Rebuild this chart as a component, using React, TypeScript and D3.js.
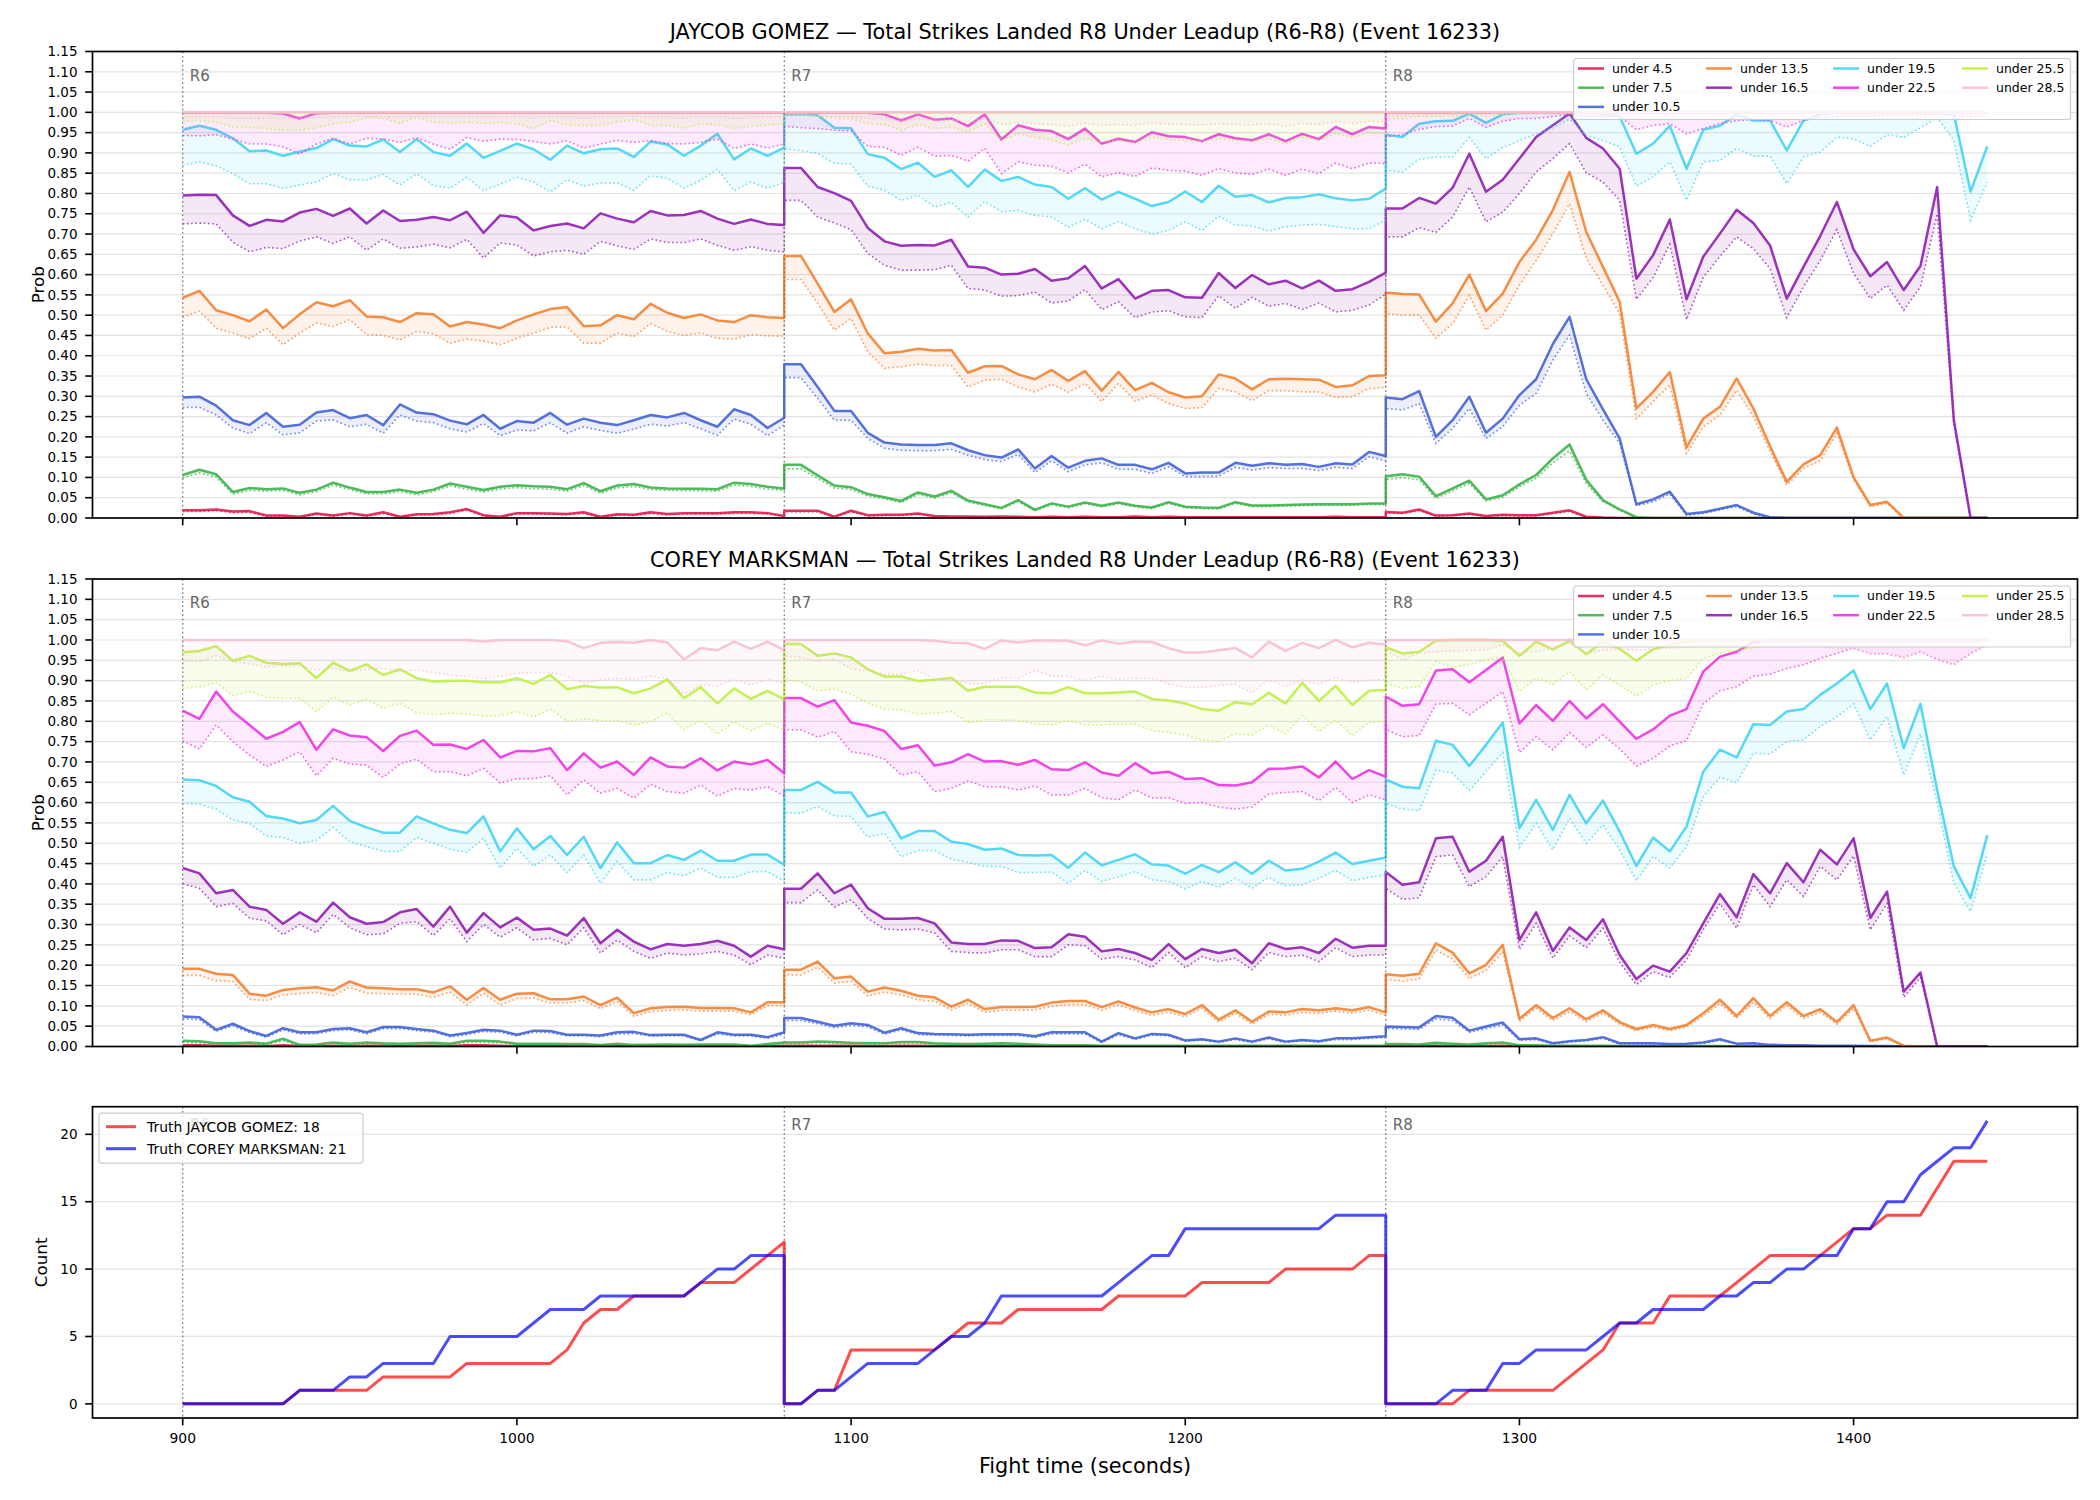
import * as d3 from 'd3'

// three rounds, one sample every 5 s, each round restarts at its own boundary
const ROUND_STARTS = [900, 1080, 1260]
const ROUND_NAMES = ['R6', 'R7', 'R8']
const TIMES = ROUND_STARTS.flatMap(s => d3.range(0, 181, 5).map(t => s + t))

const LABELS = ['under 4.5', 'under 7.5', 'under 10.5', 'under 13.5', 'under 16.5', 'under 19.5', 'under 22.5', 'under 25.5', 'under 28.5']
const COLORS = ['#e6194b', '#3cb44b', '#4363d8', '#f58231', '#911eb4', '#42d4f4', '#f032e6', '#bfef45', '#fabed4']
const X_TICKS = [900, 1000, 1100, 1200, 1300, 1400]

// ---------- JAYCOB GOMEZ: solid line (P) and dotted lower line (L) ----------
const gomezP45 = [
  [0.019,0.019,0.021,0.016,0.017,0.006,0.006,0.003,0.011,0.006, 0.012,0.006,0.014,0.003,0.009,0.010,0.014,0.022,0.007,0.003, 0.012,0.012,0.011,0.010,0.014,0.003,0.009,0.008,0.014,0.010, 0.012,0.012,0.012,0.014,0.014,0.012,0.005],
  [0.018,0.018,0.018,0.003,0.018,0.007,0.008,0.008,0.011,0.005, 0.004,0.004,0.003,0.004,0.003,0.002,0.003,0.002,0.003,0.002, 0.002,0.004,0.002,0.003,0.002,0.002,0.002,0.002,0.002,0.002, 0.002,0.002,0.002,0.003,0.002,0.002,0.002],
  [0.015,0.013,0.021,0.006,0.007,0.011,0.005,0.008,0.007,0.007, 0.013,0.019,0.003,0.001,0,0,0,0,0,0, 0,0,0,0,0,0,0,0,0,0, 0,0,0,0,0,0,0],
].flat()
const gomezL45 = [
  [0.016,0.016,0.018,0.013,0.014,0.004,0.004,0.002,0.009,0.004, 0.010,0.004,0.011,0.002,0.007,0.008,0.011,0.019,0.005,0.002, 0.010,0.010,0.009,0.008,0.011,0.002,0.007,0.006,0.011,0.008, 0.010,0.010,0.010,0.011,0.011,0.010,0.004],
  [0.015,0.015,0.015,0.002,0.015,0.005,0.006,0.006,0.009,0.004, 0.003,0.003,0.002,0.003,0.002,0.001,0.002,0.001,0.002,0.001, 0.001,0.003,0.001,0.002,0.001,0.001,0.001,0.001,0.001,0.001, 0.001,0.001,0.001,0.002,0.001,0.001,0.001],
  [0.012,0.011,0.018,0.005,0.006,0.009,0.004,0.006,0.005,0.005, 0.011,0.016,0.002,0.001,0,0,0,0,0,0, 0,0,0,0,0,0,0,0,0,0, 0,0,0,0,0,0,0],
].flat()
const gomezP75 = [
  [0.106,0.119,0.108,0.064,0.074,0.071,0.073,0.062,0.070,0.087, 0.075,0.064,0.064,0.070,0.062,0.070,0.085,0.077,0.069,0.077, 0.081,0.078,0.077,0.071,0.086,0.066,0.080,0.084,0.075,0.073, 0.072,0.072,0.071,0.087,0.084,0.077,0.073],
  [0.131,0.131,0.105,0.080,0.076,0.059,0.051,0.042,0.063,0.053, 0.067,0.043,0.034,0.025,0.044,0.020,0.036,0.028,0.038,0.030, 0.038,0.030,0.026,0.039,0.028,0.026,0.025,0.039,0.031,0.031, 0.032,0.033,0.034,0.034,0.034,0.036,0.036],
  [0.103,0.108,0.102,0.054,0.073,0.092,0.046,0.056,0.083,0.106, 0.147,0.181,0.094,0.044,0.021,0.002,0,0,0,0, 0,0,0,0,0,0,0,0,0,0, 0,0,0,0,0,0,0],
].flat()
const gomezL75 = [
  [0.099,0.111,0.101,0.059,0.068,0.066,0.068,0.057,0.065,0.081, 0.070,0.059,0.059,0.065,0.057,0.065,0.079,0.071,0.064,0.071, 0.075,0.072,0.071,0.066,0.080,0.061,0.074,0.078,0.070,0.068, 0.067,0.067,0.066,0.081,0.078,0.071,0.068],
  [0.121,0.121,0.097,0.074,0.070,0.054,0.047,0.038,0.058,0.049, 0.062,0.039,0.031,0.022,0.040,0.018,0.033,0.025,0.035,0.027, 0.035,0.027,0.023,0.036,0.025,0.023,0.022,0.036,0.028,0.028, 0.029,0.030,0.031,0.031,0.031,0.033,0.033],
  [0.095,0.099,0.094,0.048,0.067,0.085,0.042,0.051,0.077,0.098, 0.136,0.165,0.085,0.040,0.019,0.001,0,0,0,0, 0,0,0,0,0,0,0,0,0,0, 0,0,0,0,0,0,0],
].flat()
const gomezP105 = [
  [0.297,0.299,0.277,0.241,0.229,0.259,0.225,0.230,0.260,0.266, 0.246,0.254,0.229,0.280,0.260,0.256,0.240,0.231,0.254,0.220, 0.239,0.235,0.259,0.230,0.245,0.235,0.229,0.241,0.254,0.248, 0.259,0.241,0.225,0.268,0.254,0.222,0.247],
  [0.379,0.379,0.323,0.264,0.264,0.210,0.186,0.181,0.180,0.180, 0.184,0.167,0.155,0.149,0.169,0.122,0.153,0.124,0.141,0.147, 0.131,0.131,0.120,0.136,0.110,0.112,0.112,0.136,0.129,0.135, 0.131,0.133,0.126,0.135,0.132,0.163,0.153],
  [0.297,0.293,0.313,0.200,0.241,0.299,0.210,0.245,0.303,0.342, 0.429,0.496,0.342,0.268,0.196,0.034,0.046,0.065,0.010,0.014, 0.023,0.032,0.013,0.002,0,0,0,0,0,0, 0,0,0,0,0,0,0],
].flat()
const gomezL105 = [
  [0.272,0.273,0.254,0.222,0.208,0.235,0.205,0.210,0.239,0.242, 0.225,0.231,0.209,0.254,0.239,0.235,0.220,0.212,0.233,0.203, 0.217,0.215,0.235,0.209,0.225,0.216,0.209,0.219,0.231,0.227, 0.235,0.220,0.204,0.244,0.231,0.203,0.229],
  [0.346,0.346,0.295,0.241,0.241,0.196,0.172,0.167,0.166,0.166, 0.169,0.155,0.144,0.139,0.157,0.112,0.141,0.114,0.131,0.136, 0.120,0.120,0.110,0.126,0.102,0.102,0.103,0.125,0.118,0.124, 0.122,0.122,0.117,0.125,0.122,0.151,0.141],
  [0.270,0.266,0.282,0.184,0.221,0.270,0.196,0.225,0.278,0.307, 0.389,0.451,0.307,0.241,0.184,0.030,0.040,0.059,0.007,0.011, 0.020,0.028,0.010,0,0,0,0,0,0,0, 0,0,0,0,0,0,0],
].flat()
const gomezP135 = [
  [0.543,0.560,0.512,0.500,0.485,0.514,0.468,0.502,0.532,0.522, 0.537,0.497,0.495,0.483,0.505,0.502,0.472,0.483,0.477,0.468, 0.487,0.502,0.515,0.520,0.473,0.475,0.500,0.490,0.528,0.506, 0.493,0.502,0.487,0.483,0.500,0.495,0.493],
  [0.646,0.646,0.578,0.508,0.539,0.455,0.406,0.410,0.417,0.413, 0.414,0.358,0.374,0.375,0.354,0.342,0.365,0.338,0.362,0.314, 0.360,0.315,0.333,0.310,0.297,0.300,0.354,0.344,0.317,0.342, 0.343,0.342,0.341,0.323,0.327,0.350,0.352],
  [0.556,0.552,0.551,0.484,0.529,0.600,0.510,0.553,0.631,0.686, 0.759,0.853,0.705,0.619,0.533,0.270,0.311,0.360,0.174,0.245, 0.274,0.344,0.270,0.177,0.089,0.132,0.155,0.223,0.100,0.032, 0.040,0,0,0,0,0,0],
].flat()
const gomezL135 = [
  [0.495,0.510,0.468,0.456,0.442,0.468,0.427,0.456,0.481,0.472, 0.489,0.452,0.450,0.439,0.460,0.454,0.431,0.441,0.436,0.427, 0.443,0.456,0.470,0.471,0.431,0.431,0.456,0.447,0.479,0.460, 0.450,0.456,0.443,0.441,0.452,0.449,0.448],
  [0.588,0.588,0.529,0.463,0.492,0.410,0.369,0.373,0.379,0.376, 0.376,0.323,0.340,0.342,0.323,0.311,0.330,0.310,0.332,0.287, 0.332,0.288,0.303,0.282,0.270,0.272,0.319,0.311,0.289,0.314, 0.314,0.311,0.311,0.297,0.299,0.319,0.322],
  [0.504,0.500,0.500,0.443,0.479,0.549,0.463,0.500,0.574,0.635, 0.701,0.775,0.640,0.574,0.504,0.245,0.287,0.328,0.159,0.225, 0.254,0.315,0.250,0.165,0.081,0.122,0.141,0.209,0.094,0.028, 0.036,0,0,0,0,0,0],
].flat()
const gomezP165 = [
  [0.795,0.797,0.796,0.746,0.720,0.735,0.731,0.753,0.762,0.745, 0.763,0.726,0.758,0.732,0.735,0.742,0.734,0.755,0.703,0.746, 0.741,0.709,0.720,0.726,0.714,0.751,0.738,0.729,0.757,0.746, 0.747,0.757,0.738,0.725,0.736,0.725,0.722],
  [0.863,0.863,0.816,0.801,0.782,0.715,0.682,0.671,0.673,0.672, 0.686,0.620,0.617,0.600,0.602,0.614,0.585,0.591,0.621,0.566, 0.589,0.541,0.560,0.562,0.544,0.543,0.604,0.567,0.599,0.576, 0.585,0.566,0.585,0.560,0.564,0.582,0.605],
  [0.763,0.763,0.789,0.775,0.814,0.898,0.804,0.834,0.886,0.939, 0.968,0.997,0.937,0.911,0.861,0.590,0.648,0.736,0.539,0.644, 0.701,0.760,0.727,0.672,0.541,0.619,0.695,0.779,0.662,0.596, 0.631,0.562,0.621,0.816,0.241,0,0],
].flat()
const gomezL165 = [
  [0.725,0.727,0.725,0.680,0.656,0.667,0.664,0.683,0.693,0.677, 0.693,0.660,0.688,0.665,0.668,0.675,0.666,0.687,0.641,0.678, 0.673,0.646,0.656,0.660,0.650,0.682,0.671,0.662,0.688,0.679, 0.679,0.688,0.672,0.660,0.669,0.660,0.656],
  [0.783,0.783,0.742,0.727,0.711,0.652,0.623,0.611,0.611,0.612, 0.623,0.566,0.562,0.547,0.548,0.557,0.530,0.535,0.563,0.514, 0.533,0.494,0.508,0.511,0.496,0.494,0.548,0.517,0.544,0.522, 0.529,0.514,0.530,0.508,0.512,0.525,0.552],
  [0.693,0.693,0.716,0.704,0.742,0.816,0.730,0.754,0.800,0.853, 0.886,0.923,0.851,0.828,0.783,0.539,0.593,0.675,0.489,0.593, 0.645,0.693,0.664,0.615,0.494,0.570,0.635,0.711,0.603,0.541, 0.574,0.512,0.570,0.750,0.233,0,0],
].flat()
const gomezP195 = [
  [0.957,0.967,0.957,0.936,0.904,0.906,0.893,0.903,0.912,0.934, 0.918,0.916,0.933,0.902,0.934,0.902,0.893,0.923,0.888,0.905, 0.923,0.909,0.883,0.918,0.899,0.909,0.911,0.890,0.928,0.921, 0.893,0.918,0.947,0.884,0.911,0.893,0.913],
  [0.995,0.995,0.993,0.962,0.961,0.897,0.888,0.860,0.876,0.841, 0.857,0.816,0.859,0.831,0.841,0.822,0.816,0.787,0.813,0.785, 0.804,0.787,0.769,0.779,0.805,0.779,0.819,0.792,0.796,0.778, 0.789,0.791,0.798,0.788,0.783,0.787,0.812],
  [0.945,0.939,0.972,0.978,0.979,0.997,0.974,0.995,0.999,1.000, 1.000,1.000,1.000,0.996,0.990,0.898,0.923,0.967,0.861,0.957, 0.967,0.995,0.980,0.980,0.906,0.980,0.995,0.999,1.000,1.000, 1.000,1.000,1.000,1.000,0.996,0.805,0.916],
].flat()
const gomezL195 = [
  [0.869,0.878,0.868,0.849,0.824,0.824,0.813,0.821,0.828,0.849, 0.834,0.833,0.847,0.821,0.848,0.820,0.813,0.840,0.807,0.823, 0.840,0.828,0.804,0.834,0.818,0.826,0.826,0.808,0.844,0.837, 0.813,0.833,0.860,0.807,0.828,0.813,0.828],
  [0.910,0.906,0.898,0.875,0.872,0.818,0.808,0.783,0.796,0.767, 0.778,0.742,0.780,0.755,0.759,0.746,0.742,0.716,0.736,0.713, 0.730,0.713,0.700,0.709,0.730,0.709,0.744,0.722,0.720,0.707, 0.718,0.722,0.724,0.718,0.713,0.713,0.734],
  [0.857,0.853,0.884,0.890,0.890,0.938,0.886,0.913,0.931,0.946, 0.962,0.983,0.943,0.931,0.915,0.818,0.841,0.878,0.783,0.878, 0.882,0.911,0.892,0.892,0.824,0.890,0.902,0.939,0.935,0.916, 0.945,0.938,0.962,0.987,0.931,0.734,0.828],
].flat()
const gomezP225 = [
  [0.999,0.999,0.999,0.999,0.999,0.999,0.997,0.985,0.998,0.999, 0.999,0.999,0.999,0.999,0.999,0.999,0.999,0.999,0.999,0.999, 0.999,0.999,0.999,0.999,0.999,0.999,0.999,0.999,0.999,0.999, 0.999,0.999,0.999,0.999,0.999,0.999,0.999],
  [0.999,0.999,0.999,0.999,0.999,0.999,0.995,0.980,0.995,0.982, 0.985,0.966,0.995,0.933,0.968,0.957,0.954,0.934,0.960,0.923, 0.935,0.927,0.951,0.941,0.939,0.929,0.946,0.936,0.931,0.946, 0.929,0.947,0.934,0.964,0.946,0.964,0.960],
  [0.999,0.999,0.999,0.999,0.999,0.999,0.999,0.999,0.999,0.999, 0.999,0.999,0.999,0.999,0.999,0.999,0.999,0.999,0.999,0.999, 0.999,0.999,0.999,0.999,0.999,0.999,0.999,0.999,0.999,0.999, 0.999,0.999,0.999,0.999,0.999,0.999,0.999],
].flat()
const gomezL225 = [
  [0.943,0.942,0.945,0.934,0.922,0.922,0.915,0.897,0.922,0.936, 0.922,0.936,0.934,0.926,0.937,0.922,0.909,0.938,0.929,0.934, 0.933,0.928,0.922,0.930,0.912,0.922,0.931,0.926,0.930,0.923, 0.922,0.926,0.934,0.911,0.922,0.912,0.922],
  [0.966,0.962,0.960,0.956,0.954,0.916,0.914,0.894,0.914,0.892, 0.894,0.880,0.911,0.849,0.878,0.870,0.867,0.851,0.872,0.841, 0.851,0.842,0.863,0.857,0.855,0.845,0.861,0.851,0.847,0.860, 0.845,0.860,0.849,0.875,0.861,0.875,0.874],
  [0.940,0.945,0.958,0.965,0.966,0.985,0.963,0.978,0.985,0.985, 0.990,0.995,0.990,0.990,0.990,0.957,0.968,0.972,0.947,0.960, 0.972,0.980,0.982,0.980,0.964,0.980,0.987,0.990,0.992,0.992, 0.993,0.993,0.994,0.995,0.992,0.990,0.992],
].flat()
const gomezP255 = [
  [1,1,1,1,1,1,1,1,1,1, 1,1,1,1,1,1,1,1,1,1, 1,1,1,1,1,1,1,1,1,1, 1,1,1,1,1,1,1],
  [1,1,1,1,1,1,1,1,1,1, 1,1,1,1,1,1,1,1,1,1, 1,1,1,1,1,1,1,1,1,1, 1,1,1,1,1,1,1],
  [1,1,1,1,1,1,1,1,1,1, 1,1,1,1,1,1,1,1,1,1, 1,1,1,1,1,1,1,1,1,1, 1,1,1,1,1,1,1],
].flat()
const gomezL255 = [
  [0.980,0.980,0.976,0.963,0.963,0.960,0.956,0.956,0.962,0.971, 0.976,0.987,0.985,0.973,0.987,0.976,0.973,0.976,0.973,0.975, 0.972,0.960,0.980,0.970,0.968,0.968,0.976,0.982,0.968,0.968, 0.961,0.971,0.970,0.960,0.966,0.969,0.972],
  [0.995,0.993,0.990,0.987,0.984,0.972,0.970,0.956,0.970,0.960, 0.964,0.952,0.972,0.931,0.947,0.939,0.931,0.920,0.935,0.927, 0.931,0.925,0.939,0.933,0.931,0.929,0.935,0.931,0.929,0.935, 0.923,0.938,0.931,0.947,0.939,0.949,0.947],
  [0.985,0.985,0.990,0.990,0.990,0.995,0.990,0.995,0.996,0.997, 0.997,0.997,0.997,0.997,0.997,0.997,0.997,0.997,0.997,0.997, 0.997,0.997,0.997,0.997,0.997,0.997,0.997,0.997,0.997,0.997, 0.997,0.997,0.997,0.997,0.997,0.997,0.997],
].flat()
const gomezP285 = [
  [1,1,1,1,1,1,1,1,1,1, 1,1,1,1,1,1,1,1,1,1, 1,1,1,1,1,1,1,1,1,1, 1,1,1,1,1,1,1],
  [1,1,1,1,1,1,1,1,1,1, 1,1,1,1,1,1,1,1,1,1, 1,1,1,1,1,1,1,1,1,1, 1,1,1,1,1,1,1],
  [1,1,1,1,1,1,1,1,1,1, 1,1,1,1,1,1,1,1,1,1, 1,1,1,1,1,1,1,1,1,1, 1,1,1,1,1,1,1],
].flat()
const gomezL285 = [
  [0.988,0.987,0.988,0.986,0.985,0.986,0.985,0.984,0.986,0.988, 0.989,0.990,0.989,0.987,0.990,0.988,0.987,0.989,0.987,0.988, 0.988,0.986,0.989,0.987,0.986,0.987,0.989,0.990,0.987,0.987, 0.986,0.989,0.988,0.985,0.987,0.988,0.989],
  [0.995,0.994,0.992,0.990,0.988,0.985,0.984,0.978,0.984,0.980, 0.981,0.976,0.984,0.970,0.976,0.972,0.970,0.966,0.973,0.968, 0.970,0.968,0.974,0.971,0.970,0.969,0.972,0.970,0.969,0.972, 0.966,0.973,0.970,0.977,0.973,0.978,0.977],
  [0.992,0.992,0.994,0.995,0.995,0.997,0.995,0.997,0.998,0.998, 0.998,0.998,0.998,0.998,0.998,0.998,0.998,0.998,0.998,0.998, 0.998,0.998,0.998,0.998,0.998,0.998,0.998,0.998,0.998,0.998, 0.998,0.998,0.998,0.998,0.998,0.998,0.998],
].flat()

// ---------- COREY MARKSMAN ----------
const coreyP45 = [
  [0.003,0.003,0.002,0.002,0.002,0.001,0.003,0.001,0.001,0.002, 0.001,0.002,0.002,0.001,0.002,0.002,0.001,0.003,0.003,0.002, 0.001,0.001,0.001,0.001,0.001,0.001,0.001,0.001,0.001,0.001, 0.001,0.001,0.001,0.001,0,0.001,0.002],
  [0.002,0.002,0.002,0.002,0.002,0.001,0.001,0.002,0.002,0.001, 0.001,0.001,0.001,0.001,0.001,0.001,0,0,0,0, 0,0,0,0,0,0,0,0,0,0, 0,0,0,0,0,0,0],
  [0.001,0.001,0.001,0.002,0.001,0.001,0.001,0.002,0,0, 0,0,0,0,0,0,0,0,0,0, 0,0,0,0,0,0,0,0,0,0, 0,0,0,0,0,0,0],
].flat()
const coreyL45 = [
  [0.002,0.002,0.001,0.001,0.001,0.001,0.002,0.001,0.001,0.001, 0.001,0.001,0.001,0.001,0.001,0.001,0.001,0.002,0.002,0.001, 0.001,0.001,0.001,0.001,0.001,0.001,0.001,0.001,0.001,0.001, 0.001,0.001,0.001,0.001,0,0.001,0.001],
  [0.001,0.001,0.001,0.001,0.001,0.001,0.001,0.001,0.001,0.001, 0.001,0.001,0.001,0.001,0.001,0.001,0,0,0,0, 0,0,0,0,0,0,0,0,0,0, 0,0,0,0,0,0,0],
  [0.001,0.001,0.001,0.001,0.001,0.001,0.001,0.001,0,0, 0,0,0,0,0,0,0,0,0,0, 0,0,0,0,0,0,0,0,0,0, 0,0,0,0,0,0,0],
].flat()
const coreyP75 = [
  [0.014,0.013,0.008,0.008,0.010,0.007,0.019,0.004,0.005,0.010, 0.007,0.010,0.008,0.007,0.008,0.009,0.007,0.014,0.014,0.012, 0.007,0.007,0.007,0.006,0.006,0.004,0.007,0.004,0.004,0.005, 0.004,0.005,0.005,0.005,0.002,0.006,0.010],
  [0.010,0.010,0.012,0.011,0.009,0.008,0.008,0.011,0.011,0.008, 0.007,0.006,0.007,0.008,0.007,0.005,0.003,0.003,0.003,0.002, 0.002,0.002,0.002,0.002,0.002,0.002,0.002,0.002,0.002,0.002, 0.002,0.002,0.002,0.002,0.002,0.002,0.002],
  [0.006,0.006,0.005,0.009,0.007,0.005,0.008,0.010,0.003,0.003, 0.002,0.002,0.002,0.002,0.001,0.001,0.001,0.001,0.001,0.001, 0.001,0,0,0,0,0,0,0,0,0, 0,0,0,0,0,0,0],
].flat()
const coreyL75 = [
  [0.010,0.009,0.006,0.006,0.007,0.005,0.014,0.003,0.004,0.007, 0.005,0.007,0.006,0.005,0.006,0.006,0.005,0.010,0.010,0.009, 0.005,0.005,0.005,0.004,0.004,0.003,0.005,0.003,0.003,0.004, 0.003,0.004,0.004,0.004,0.001,0.004,0.007],
  [0.007,0.007,0.009,0.008,0.006,0.006,0.006,0.008,0.008,0.006, 0.005,0.004,0.005,0.006,0.005,0.004,0.002,0.002,0.002,0.001, 0.001,0.001,0.001,0.001,0.001,0.001,0.001,0.001,0.001,0.001, 0.001,0.001,0.001,0.001,0.001,0.001,0.001],
  [0.004,0.004,0.004,0.006,0.005,0.004,0.006,0.007,0.002,0.002, 0.001,0.001,0.001,0.001,0.001,0.001,0.001,0.001,0.001,0.001, 0,0,0,0,0,0,0,0,0,0, 0,0,0,0,0,0,0],
].flat()
const coreyP105 = [
  [0.074,0.072,0.041,0.056,0.038,0.026,0.045,0.035,0.035,0.043, 0.045,0.035,0.048,0.048,0.043,0.039,0.027,0.033,0.041,0.039, 0.029,0.039,0.038,0.029,0.029,0.027,0.035,0.036,0.028,0.029, 0.029,0.016,0.035,0.029,0.029,0.023,0.035],
  [0.070,0.070,0.061,0.051,0.057,0.053,0.034,0.045,0.033,0.031, 0.030,0.029,0.030,0.030,0.030,0.025,0.035,0.035,0.035,0.012, 0.033,0.020,0.031,0.029,0.015,0.018,0.012,0.020,0.012,0.022, 0.012,0.016,0.013,0.020,0.020,0.023,0.025],
  [0.049,0.048,0.047,0.075,0.071,0.039,0.049,0.059,0.018,0.020, 0.008,0.013,0.016,0.023,0.008,0.008,0.008,0.006,0.007,0.010, 0.018,0.007,0.008,0.004,0.003,0.003,0.002,0.002,0.002,0.001, 0.001,0,0,0,0,0,0],
].flat()
const coreyL105 = [
  [0.068,0.066,0.037,0.051,0.034,0.023,0.041,0.031,0.031,0.039, 0.041,0.031,0.044,0.044,0.039,0.035,0.024,0.029,0.037,0.035, 0.026,0.035,0.034,0.026,0.026,0.024,0.031,0.032,0.025,0.026, 0.026,0.014,0.031,0.026,0.026,0.020,0.031],
  [0.064,0.064,0.056,0.046,0.052,0.048,0.030,0.041,0.029,0.028, 0.027,0.026,0.027,0.027,0.027,0.022,0.031,0.031,0.031,0.010, 0.029,0.017,0.028,0.026,0.013,0.016,0.010,0.017,0.010,0.019, 0.010,0.014,0.011,0.017,0.017,0.020,0.022],
  [0.044,0.043,0.042,0.068,0.064,0.035,0.044,0.053,0.015,0.017, 0.006,0.011,0.014,0.020,0.006,0.006,0.006,0.005,0.006,0.008, 0.015,0.006,0.006,0.003,0.002,0.002,0.001,0.001,0.001,0.001, 0,0,0,0,0,0,0],
].flat()
const coreyP135 = [
  [0.191,0.191,0.179,0.176,0.130,0.125,0.139,0.143,0.146,0.138, 0.160,0.145,0.143,0.141,0.141,0.133,0.148,0.115,0.144,0.115, 0.130,0.131,0.116,0.116,0.123,0.102,0.120,0.082,0.094,0.097, 0.098,0.095,0.095,0.094,0.084,0.109,0.109],
  [0.189,0.189,0.209,0.168,0.172,0.135,0.145,0.137,0.125,0.121, 0.098,0.115,0.092,0.097,0.097,0.098,0.108,0.112,0.112,0.097, 0.111,0.096,0.084,0.092,0.080,0.102,0.066,0.089,0.061,0.086, 0.084,0.092,0.089,0.094,0.089,0.097,0.084],
  [0.178,0.174,0.179,0.254,0.231,0.180,0.201,0.250,0.068,0.102, 0.070,0.094,0.067,0.089,0.060,0.043,0.053,0.043,0.053,0.082, 0.115,0.075,0.119,0.075,0.109,0.075,0.092,0.060,0.102,0.014, 0.022,0.002,0,0,0,0,0],
].flat()
const coreyL135 = [
  [0.175,0.175,0.162,0.160,0.116,0.113,0.127,0.130,0.133,0.125, 0.146,0.131,0.130,0.129,0.129,0.121,0.134,0.102,0.131,0.102, 0.118,0.119,0.107,0.107,0.113,0.093,0.111,0.074,0.086,0.089, 0.090,0.087,0.087,0.087,0.078,0.101,0.101],
  [0.176,0.176,0.195,0.156,0.160,0.124,0.134,0.127,0.115,0.111, 0.090,0.106,0.084,0.089,0.089,0.090,0.099,0.103,0.103,0.089, 0.102,0.088,0.077,0.084,0.073,0.094,0.060,0.082,0.055,0.079, 0.077,0.084,0.082,0.087,0.082,0.089,0.077],
  [0.165,0.161,0.166,0.237,0.215,0.167,0.187,0.233,0.062,0.094, 0.064,0.086,0.061,0.082,0.055,0.039,0.048,0.039,0.048,0.075, 0.106,0.069,0.109,0.069,0.100,0.069,0.084,0.055,0.094,0.012, 0.019,0.001,0,0,0,0,0],
].flat()
const coreyP165 = [
  [0.439,0.426,0.377,0.385,0.344,0.336,0.302,0.330,0.307,0.354, 0.318,0.302,0.306,0.330,0.338,0.295,0.344,0.280,0.328,0.293, 0.317,0.287,0.290,0.273,0.316,0.254,0.287,0.258,0.239,0.252, 0.248,0.252,0.260,0.248,0.221,0.248,0.239],
  [0.388,0.388,0.426,0.377,0.398,0.340,0.314,0.314,0.316,0.303, 0.256,0.252,0.252,0.261,0.260,0.242,0.244,0.276,0.270,0.234, 0.240,0.230,0.213,0.252,0.215,0.240,0.230,0.238,0.205,0.254, 0.240,0.244,0.230,0.265,0.243,0.248,0.248],
  [0.429,0.398,0.404,0.512,0.516,0.430,0.457,0.516,0.262,0.330, 0.235,0.293,0.262,0.313,0.225,0.166,0.199,0.184,0.230,0.303, 0.375,0.318,0.424,0.377,0.451,0.404,0.484,0.448,0.512,0.316, 0.381,0.135,0.182,0,0,0,0],
].flat()
const coreyL165 = [
  [0.400,0.389,0.344,0.352,0.316,0.309,0.275,0.300,0.280,0.325, 0.292,0.275,0.277,0.303,0.307,0.273,0.314,0.258,0.300,0.269, 0.292,0.262,0.266,0.250,0.292,0.230,0.262,0.234,0.217,0.230, 0.225,0.228,0.234,0.225,0.201,0.225,0.217],
  [0.354,0.354,0.385,0.343,0.361,0.315,0.289,0.287,0.289,0.279, 0.234,0.231,0.230,0.238,0.238,0.221,0.221,0.250,0.248,0.215, 0.221,0.213,0.194,0.231,0.194,0.221,0.209,0.217,0.189,0.231, 0.221,0.225,0.209,0.243,0.221,0.225,0.225],
  [0.389,0.362,0.366,0.467,0.471,0.393,0.418,0.467,0.239,0.303, 0.217,0.272,0.243,0.291,0.207,0.152,0.184,0.170,0.213,0.287, 0.352,0.291,0.398,0.344,0.410,0.369,0.443,0.410,0.469,0.287, 0.352,0.121,0.170,0,0,0,0],
].flat()
const coreyP195 = [
  [0.657,0.655,0.641,0.613,0.602,0.567,0.561,0.549,0.557,0.592, 0.555,0.539,0.526,0.526,0.566,0.549,0.533,0.525,0.566,0.480, 0.537,0.485,0.518,0.471,0.516,0.439,0.502,0.451,0.451,0.471, 0.459,0.482,0.457,0.457,0.472,0.472,0.447],
  [0.631,0.631,0.651,0.625,0.625,0.566,0.577,0.512,0.530,0.530, 0.504,0.498,0.484,0.487,0.471,0.470,0.471,0.440,0.477,0.446, 0.459,0.473,0.448,0.445,0.425,0.447,0.429,0.453,0.425,0.457, 0.433,0.437,0.455,0.477,0.449,0.457,0.465],
  [0.657,0.639,0.635,0.752,0.742,0.690,0.742,0.797,0.537,0.607, 0.533,0.619,0.549,0.605,0.529,0.444,0.514,0.480,0.541,0.676, 0.730,0.711,0.793,0.791,0.824,0.830,0.865,0.893,0.925,0.830, 0.893,0.734,0.843,0.631,0.443,0.365,0.520],
].flat()
const coreyL195 = [
  [0.598,0.596,0.584,0.557,0.549,0.518,0.514,0.500,0.507,0.539, 0.504,0.492,0.480,0.480,0.514,0.500,0.485,0.478,0.512,0.439, 0.488,0.443,0.471,0.428,0.471,0.402,0.455,0.410,0.410,0.428, 0.420,0.439,0.416,0.416,0.430,0.430,0.406],
  [0.575,0.574,0.590,0.567,0.566,0.515,0.525,0.467,0.482,0.482, 0.461,0.453,0.443,0.443,0.428,0.428,0.429,0.402,0.433,0.406, 0.418,0.430,0.410,0.406,0.388,0.406,0.392,0.414,0.389,0.416, 0.395,0.398,0.414,0.433,0.408,0.416,0.422],
  [0.598,0.584,0.580,0.680,0.672,0.630,0.676,0.723,0.489,0.549, 0.484,0.561,0.500,0.545,0.484,0.408,0.467,0.439,0.492,0.615, 0.662,0.649,0.721,0.720,0.750,0.754,0.787,0.811,0.843,0.754, 0.811,0.668,0.769,0.598,0.402,0.332,0.475],
].flat()
const coreyP225 = [
  [0.826,0.806,0.873,0.824,0.791,0.757,0.774,0.798,0.730,0.780, 0.765,0.761,0.727,0.764,0.777,0.742,0.743,0.732,0.754,0.711, 0.727,0.726,0.734,0.680,0.721,0.686,0.701,0.668,0.711,0.689, 0.686,0.709,0.679,0.701,0.694,0.705,0.672],
  [0.857,0.857,0.836,0.852,0.797,0.789,0.776,0.732,0.741,0.691, 0.699,0.719,0.701,0.702,0.693,0.705,0.682,0.680,0.699,0.674, 0.666,0.697,0.672,0.676,0.658,0.660,0.643,0.642,0.650,0.683, 0.684,0.689,0.662,0.701,0.658,0.680,0.664],
  [0.861,0.838,0.842,0.925,0.928,0.896,0.926,0.957,0.795,0.840, 0.801,0.850,0.807,0.842,0.799,0.757,0.780,0.814,0.830,0.922, 0.959,0.971,0.995,1.000,1.000,1.000,1.000,1.000,1.000,1.000, 1.000,1.000,1.000,1.000,1.000,1.000,1.000],
].flat()
const coreyL225 = [
  [0.752,0.732,0.791,0.750,0.717,0.689,0.705,0.725,0.666,0.709, 0.695,0.692,0.662,0.695,0.707,0.676,0.676,0.666,0.684,0.648, 0.659,0.659,0.666,0.619,0.656,0.623,0.635,0.611,0.645,0.627, 0.623,0.643,0.616,0.635,0.631,0.639,0.616],
  [0.779,0.779,0.761,0.775,0.725,0.719,0.707,0.668,0.676,0.627, 0.635,0.653,0.639,0.639,0.631,0.641,0.619,0.619,0.635,0.612, 0.607,0.631,0.611,0.612,0.598,0.600,0.589,0.584,0.589,0.621, 0.625,0.627,0.605,0.637,0.600,0.619,0.607],
  [0.780,0.762,0.765,0.842,0.844,0.816,0.844,0.873,0.723,0.762, 0.730,0.772,0.736,0.766,0.732,0.690,0.709,0.739,0.752,0.843, 0.875,0.885,0.911,0.916,0.930,0.939,0.955,0.967,0.980,0.966, 0.966,0.957,0.971,0.952,0.939,0.967,0.988],
].flat()
const coreyP255 = [
  [0.970,0.973,0.985,0.949,0.961,0.944,0.941,0.943,0.906,0.944, 0.924,0.940,0.914,0.928,0.906,0.898,0.900,0.900,0.896,0.896, 0.906,0.892,0.914,0.879,0.887,0.883,0.884,0.869,0.881,0.903, 0.857,0.884,0.844,0.881,0.855,0.875,0.854],
  [0.990,0.990,0.961,0.967,0.957,0.928,0.910,0.910,0.899,0.902, 0.907,0.875,0.885,0.885,0.885,0.871,0.869,0.884,0.869,0.869, 0.871,0.873,0.855,0.851,0.844,0.830,0.826,0.847,0.842,0.870, 0.844,0.895,0.850,0.887,0.840,0.875,0.877],
  [0.982,0.967,0.971,0.998,1.000,1.000,1.000,0.998,0.961,0.996, 0.977,0.998,0.965,0.996,0.978,0.949,0.977,0.988,0.996,0.998, 1.000,1.000,1.000,1.000,1.000,1.000,1.000,1.000,1.000,1.000, 1.000,1.000,1.000,1.000,1.000,1.000,1.000],
].flat()
const coreyL255 = [
  [0.881,0.885,0.895,0.864,0.873,0.859,0.856,0.857,0.824,0.859, 0.840,0.854,0.832,0.844,0.821,0.816,0.820,0.818,0.813,0.814, 0.824,0.811,0.830,0.801,0.805,0.802,0.802,0.791,0.799,0.820, 0.779,0.802,0.769,0.799,0.777,0.795,0.779],
  [0.902,0.898,0.875,0.879,0.867,0.844,0.830,0.828,0.818,0.820, 0.824,0.797,0.803,0.803,0.802,0.793,0.791,0.802,0.791,0.791, 0.793,0.793,0.777,0.773,0.766,0.754,0.750,0.769,0.766,0.791, 0.769,0.814,0.775,0.803,0.765,0.797,0.800],
  [0.893,0.881,0.885,0.947,0.933,0.939,0.951,0.957,0.873,0.906, 0.891,0.922,0.877,0.914,0.889,0.862,0.889,0.900,0.906,0.955, 0.967,0.975,0.980,0.988,0.996,0.997,0.998,0.998,0.998,0.998, 0.998,0.998,0.998,0.998,0.998,0.998,0.998],
].flat()
const coreyP285 = [
  [1,1,1,1,1,1,1,1,1,1, 1,1,1,1,1,1,1,1,0.996,1, 1,1,1,0.997,0.980,0.993,0.995,0.993,1,0.994, 0.952,0.980,0.975,0.996,0.978,0.996,0.975],
  [1,1,1,1,1,1,1,1,1,0.998, 0.993,0.992,0.978,0.999,0.994,0.999,0.999,0.998,0.987,0.999, 0.991,0.996,0.995,0.980,0.969,0.969,0.975,0.980,0.957,0.996, 0.973,0.993,0.980,1,0.982,0.993,0.989],
  [1,1,1,1,1,1,1,1,1,1, 1,1,1,1,1,1,1,1,1,1, 1,1,1,1,1,1,1,1,1,1, 1,1,1,1,1,1,1],
].flat()
const coreyL285 = [
  [0.949,0.946,0.961,0.947,0.941,0.934,0.936,0.936,0.926,0.930, 0.922,0.928,0.930,0.922,0.926,0.920,0.914,0.910,0.905,0.911, 0.918,0.920,0.920,0.911,0.893,0.902,0.905,0.903,0.911,0.905, 0.867,0.889,0.887,0.903,0.889,0.903,0.893],
  [0.961,0.957,0.947,0.952,0.930,0.924,0.916,0.916,0.925,0.903, 0.902,0.893,0.892,0.908,0.906,0.925,0.911,0.910,0.900,0.911, 0.902,0.906,0.906,0.892,0.883,0.883,0.888,0.891,0.870,0.902, 0.885,0.902,0.891,0.908,0.895,0.902,0.902],
  [0.975,0.951,0.967,0.971,0.973,0.974,0.975,0.988,0.969,0.971, 0.980,0.992,0.967,0.975,0.978,0.975,0.978,0.980,0.982,0.985, 0.987,0.988,0.989,0.990,0.990,0.988,0.985,0.978,0.978,0.967, 0.967,0.957,0.971,0.955,0.939,0.969,0.988],
].flat()

// ---------- running totals (truth) ----------
const truthGomez = [
  [0,0,0,0,0,0,0,1,1,1, 1,1,2,2,2,2,2,3,3,3, 3,3,3,4,6,7,7,8,8,8, 8,9,9,9,10,11,12],
  [0,0,1,1,4,4,4,4,4,4, 5,6,6,6,7,7,7,7,7,7, 8,8,8,8,8,9,9,9,9,9, 10,10,10,10,10,11,11],
  [0,0,0,0,0,1,1,1,1,1, 1,2,3,4,6,6,6,8,8,8, 8,9,10,11,11,11,11,12,13,13, 14,14,14,16,18,18,18],
].flat()
const truthCorey = [
  [0,0,0,0,0,0,0,1,1,1, 2,2,3,3,3,3,5,5,5,5, 5,6,7,7,7,8,8,8,8,8, 8,9,10,10,11,11,11],
  [0,0,1,1,2,3,3,3,3,4, 5,5,6,8,8,8,8,8,8,8, 9,10,11,11,13,13,13,13,13,13, 13,13,13,14,14,14,14],
  [0,0,0,0,1,1,1,3,3,4, 4,4,4,5,6,6,7,7,7,7, 8,8,9,9,10,10,11,11,13,13, 15,15,17,18,19,19,21],
].flat()

const GOMEZ_P = [gomezP45, gomezP75, gomezP105, gomezP135, gomezP165, gomezP195, gomezP225, gomezP255, gomezP285]
const GOMEZ_L = [gomezL45, gomezL75, gomezL105, gomezL135, gomezL165, gomezL195, gomezL225, gomezL255, gomezL285]
const COREY_P = [coreyP45, coreyP75, coreyP105, coreyP135, coreyP165, coreyP195, coreyP225, coreyP255, coreyP285]
const COREY_L = [coreyL45, coreyL75, coreyL105, coreyL135, coreyL165, coreyL195, coreyL225, coreyL255, coreyL285]

const FONT = "'DejaVu Sans', 'Liberation Sans', sans-serif"
const LEFT = 92.5
const RIGHT = 2077.5
const x = d3.scaleLinear().domain([873, 1467]).range([LEFT, RIGHT])

function RoundMarks({ top, bottom, labelY }: { top: number; bottom: number; labelY: number }) {
  return (
    <g>
      {ROUND_STARTS.map((s, i) => (
        <g key={s}>
          <line x1={x(s)} x2={x(s)} y1={top} y2={bottom} stroke="#666" strokeWidth={1.1} strokeDasharray="1.7,2.7" />
          <text x={x(s) + 7} y={labelY} fontSize={15} fill="#666" fontFamily={FONT}>{ROUND_NAMES[i]}</text>
        </g>
      ))}
    </g>
  )
}

function XTicks({ bottom, labels }: { bottom: number; labels: boolean }) {
  return (
    <g>
      {X_TICKS.map(t => (
        <g key={t}>
          <line x1={x(t)} x2={x(t)} y1={bottom} y2={bottom + 7.3} stroke="#000" strokeWidth={1.6} />
          {labels && <text x={x(t)} y={bottom + 25} textAnchor="middle" fontSize={13.9} fontFamily={FONT}>{t}</text>}
        </g>
      ))}
    </g>
  )
}

function ProbPanel({ id, top, bottom, title, solid, lower }: { id: string; top: number; bottom: number; title: string; solid: number[][]; lower: number[][] }) {
  const y = d3.scaleLinear().domain([0, 1.15]).range([bottom, top])
  const yTicks = d3.range(24).map(i => +(i * 0.05).toFixed(2))
  const line = d3.line<number>().x((_, i) => x(TIMES[i])).y(d => y(d))
  const legendTop = top + 7
  const colX = [1578, 1706, 1833, 1962]
  const legendItems = [[0, 0], [0, 1], [0, 2], [1, 0], [1, 1], [2, 0], [2, 1], [3, 0], [3, 1]]
  return (
    <g>
      <defs>
        <clipPath id={id}><rect x={LEFT} y={top} width={RIGHT - LEFT} height={bottom - top} /></clipPath>
      </defs>
      {yTicks.map(t => (
        <line key={t} x1={LEFT} x2={RIGHT} y1={y(t)} y2={y(t)} stroke="#b0b0b0" strokeOpacity={0.35} strokeWidth={1.2} />
      ))}
      <g clipPath={`url(#${id})`}>
        {solid.map((s, k) => {
          const band = d3.area<number>().x((_, i) => x(TIMES[i])).y0((_, i) => y(lower[k][i])).y1(d => y(d))
          return (
            <g key={k}>
              <path d={line(s) ?? ''} fill="none" stroke={COLORS[k]} strokeWidth={2.5} strokeOpacity={0.9} strokeLinejoin="round" />
              <path d={line(lower[k]) ?? ''} fill="none" stroke={COLORS[k]} strokeWidth={1.6} strokeOpacity={0.75} strokeDasharray="1.6,2.6" />
              <path d={band(s) ?? ''} fill={COLORS[k]} fillOpacity={0.1} />
            </g>
          )
        })}
      </g>
      <RoundMarks top={top} bottom={bottom} labelY={top + 29} />
      {yTicks.map(t => (
        <g key={t}>
          <line x1={LEFT - 7.3} x2={LEFT} y1={y(t)} y2={y(t)} stroke="#000" strokeWidth={1.6} />
          <text x={LEFT - 15} y={y(t)} dy="0.35em" textAnchor="end" fontSize={13.5} fontFamily={FONT}>{t.toFixed(2)}</text>
        </g>
      ))}
      <XTicks bottom={bottom} labels={false} />
      <rect x={LEFT} y={top} width={RIGHT - LEFT} height={bottom - top} fill="none" stroke="#000" strokeWidth={1.7} />
      <text x={(LEFT + RIGHT) / 2} y={top - 12.5} textAnchor="middle" fontSize={20.8} fontFamily={FONT}>{title}</text>
      <text transform={`translate(43.5,${(top + bottom) / 2}) rotate(-90)`} textAnchor="middle" fontSize={16.7} fontFamily={FONT}>Prob</text>
      <rect x={1573.5} y={legendTop} width={497} height={61} rx={3} fill="#fff" fillOpacity={0.8} stroke="#ccc" strokeWidth={1.2} />
      {legendItems.map(([c, r], k) => {
        const ly = legendTop + 10 + 19.2 * r
        return (
          <g key={k}>
            <line x1={colX[c]} x2={colX[c] + 26} y1={ly} y2={ly} stroke={COLORS[k]} strokeWidth={2.5} strokeOpacity={0.9} />
            <text x={colX[c] + 34} y={ly} dy="0.35em" fontSize={12.5} fontFamily={FONT}>{LABELS[k]}</text>
          </g>
        )
      })}
    </g>
  )
}

function CountPanel({ top, bottom }: { top: number; bottom: number }) {
  const y = d3.scaleLinear().domain([-1.05, 22.05]).range([bottom, top])
  const yTicks = [0, 5, 10, 15, 20]
  const line = d3.line<number>().x((_, i) => x(TIMES[i])).y(d => y(d))
  const series = [
    { name: 'JAYCOB GOMEZ', values: truthGomez, color: 'red' },
    { name: 'COREY MARKSMAN', values: truthCorey, color: 'blue' },
  ]
  return (
    <g>
      {yTicks.map(t => (
        <line key={t} x1={LEFT} x2={RIGHT} y1={y(t)} y2={y(t)} stroke="#b0b0b0" strokeOpacity={0.35} strokeWidth={1.2} />
      ))}
      <RoundMarks top={top} bottom={bottom} labelY={top + 23.5} />
      {series.map(s => (
        <path key={s.name} d={line(s.values) ?? ''} fill="none" stroke={s.color} strokeOpacity={0.7} strokeWidth={3} strokeLinejoin="round" />
      ))}
      {yTicks.map(t => (
        <g key={t}>
          <line x1={LEFT - 7.3} x2={LEFT} y1={y(t)} y2={y(t)} stroke="#000" strokeWidth={1.6} />
          <text x={LEFT - 15} y={y(t)} dy="0.35em" textAnchor="end" fontSize={13.5} fontFamily={FONT}>{t}</text>
        </g>
      ))}
      <XTicks bottom={bottom} labels={true} />
      <rect x={LEFT} y={top} width={RIGHT - LEFT} height={bottom - top} fill="none" stroke="#000" strokeWidth={1.7} />
      <text transform={`translate(46.5,${(top + bottom) / 2}) rotate(-90)`} textAnchor="middle" fontSize={16.7} fontFamily={FONT}>Count</text>
      <text x={(LEFT + RIGHT) / 2} y={1472.5} textAnchor="middle" fontSize={20.8} fontFamily={FONT}>Fight time (seconds)</text>
      <rect x={99} y={top + 6.5} width={264} height={50} rx={3} fill="#fff" fillOpacity={0.8} stroke="#ccc" strokeWidth={1.2} />
      {series.map((s, k) => {
        const ly = top + 20 + 22 * k
        return (
          <g key={s.name}>
            <line x1={106} x2={136} y1={ly} y2={ly} stroke={s.color} strokeOpacity={0.7} strokeWidth={3} />
            <text x={147} y={ly} dy="0.35em" fontSize={13.9} fontFamily={FONT}>{`Truth ${s.name}: ${s.values[s.values.length - 1]}`}</text>
          </g>
        )
      })}
    </g>
  )
}

export default function App() {
  const subtitle = 'Total Strikes Landed R8 Under Leadup (R6-R8) (Event 16233)'
  return (
    <div style={{ position: 'absolute', left: 0, top: 0 }}>
      <svg width={2100} height={1500} style={{ display: 'block', background: '#fff' }}>
        <rect width={2100} height={1500} fill="#fff" />
        <ProbPanel id="clipTop" top={51.5} bottom={518} title={`JAYCOB GOMEZ — ${subtitle}`} solid={GOMEZ_P} lower={GOMEZ_L} />
        <ProbPanel id="clipMid" top={579} bottom={1046.5} title={`COREY MARKSMAN — ${subtitle}`} solid={COREY_P} lower={COREY_L} />
        <CountPanel top={1106.7} bottom={1418} />
      </svg>
    </div>
  )
}
